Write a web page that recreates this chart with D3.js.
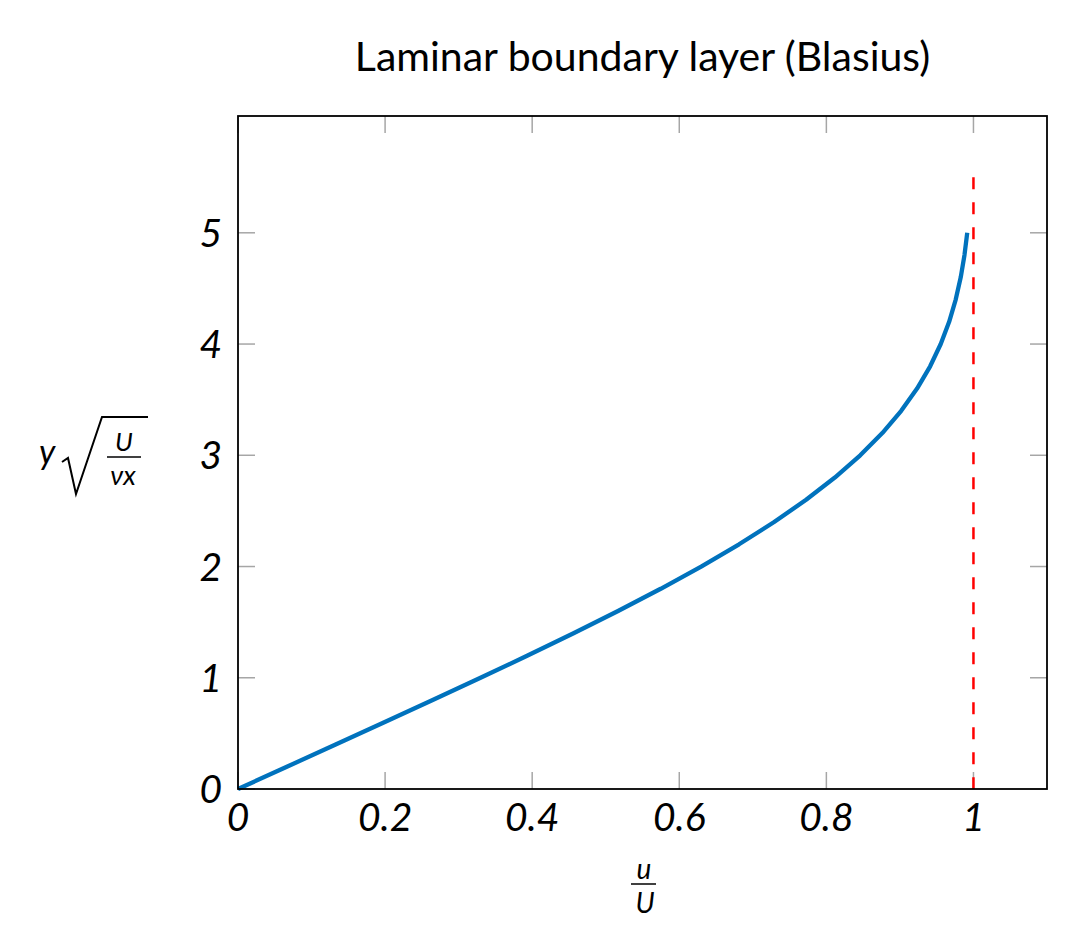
<!DOCTYPE html>
<meta charset="utf-8">
<head>
<style>
  body { margin: 0; background: #fff; }
  svg { display: block; }
  .tick-lbl { font-family: Lato, sans-serif; font-style: italic; font-size: 39px; fill: #000; }
  .title { font-family: Lato, sans-serif; font-size: 41px; fill: #000; }
  .math { font-family: Lato, sans-serif; font-style: italic; fill: #000; }
</style>
</head>
<body>
<svg id="chart" width="1072" height="947"></svg>
<script src="https://d3js.org/d3.v7.min.js"></script>
<script>
  // Blasius profile: eta = y*sqrt(U/(nu x)) and u/U
  var eta = [0, 0.2, 0.4, 0.6, 0.8, 1.0, 1.2, 1.4, 1.6, 1.8, 2.0, 2.2, 2.4, 2.6,
             2.8, 3.0, 3.2, 3.4, 3.6, 3.8, 4.0, 4.2, 4.4, 4.6, 4.8, 5.0];
  var uU = [0, 0.06641, 0.13277, 0.19894, 0.26471, 0.32979, 0.39378, 0.45627,
            0.51676, 0.57477, 0.62977, 0.68132, 0.72899, 0.77246, 0.81152,
            0.84605, 0.87609, 0.90177, 0.92333, 0.94112, 0.95552, 0.96696,
            0.97587, 0.98269, 0.98779, 0.99155];

  var xTicks = [0, 0.2, 0.4, 0.6, 0.8, 1];
  var xTickLabels = ["0", "0.2", "0.4", "0.6", "0.8", "1"];
  var yTicks = [0, 1, 2, 3, 4, 5];
  var freeStream = [{x: 1, y0: 0, y1: 5.5}];

  var L = 238, R = 1047, T = 116, B = 789;
  var x = d3.scaleLinear().domain([0, 1.1]).range([L, R]);
  var y = d3.scaleLinear().domain([0, 6.05]).range([B, T]);

  var svg = d3.select("#chart");

  // inner ticks, mirrored on all sides
  var tk = 17;
  var g = svg.append("g").attr("stroke", "#a6a6a6").attr("stroke-width", 1.5);
  xTicks.forEach(function (v) {
    g.append("line").attr("x1", x(v)).attr("x2", x(v)).attr("y1", B).attr("y2", B - tk);
    g.append("line").attr("x1", x(v)).attr("x2", x(v)).attr("y1", T).attr("y2", T + tk);
  });
  yTicks.forEach(function (v) {
    g.append("line").attr("x1", L).attr("x2", L + tk).attr("y1", y(v)).attr("y2", y(v));
    g.append("line").attr("x1", R).attr("x2", R - tk).attr("y1", y(v)).attr("y2", y(v));
  });

  // free stream u/U = 1
  svg.selectAll(".fs").data(freeStream).enter().append("line")
     .attr("class", "fs")
     .attr("x1", d => x(d.x)).attr("x2", d => x(d.x))
     .attr("y1", d => y(d.y1)).attr("y2", d => y(d.y0))
     .attr("stroke", "#ff0000").attr("stroke-width", 2.5)
     .attr("stroke-dasharray", "12,13");

  var line = d3.line().x(d => x(d[0])).y(d => y(d[1]));
  svg.append("path")
     .datum(uU.map((u, i) => [u, eta[i]]))
     .attr("d", line)
     .attr("fill", "none")
     .attr("stroke", "#0072bd")
     .attr("stroke-width", 4.3)
     .attr("stroke-linejoin", "round");

  // axes box
  svg.append("rect").attr("x", L).attr("y", T).attr("width", R - L).attr("height", B - T)
     .attr("fill", "none").attr("stroke", "#000").attr("stroke-width", 1.8);

  // tick labels
  svg.selectAll(".xl").data(xTicks).enter().append("text")
     .attr("class", "tick-lbl")
     .attr("x", d => x(d)).attr("y", 831)
     .attr("text-anchor", "middle")
     .text((d, i) => xTickLabels[i]);
  svg.selectAll(".yl").data(yTicks).enter().append("text")
     .attr("class", "tick-lbl")
     .attr("x", 222).attr("y", d => y(d) + 14)
     .attr("text-anchor", "end")
     .text(d => d);

  svg.append("text").attr("class", "title")
     .attr("x", (L + R) / 2).attr("y", 71).attr("text-anchor", "middle")
     .text("Laminar boundary layer (Blasius)");

  // x label u/U
  svg.append("text").attr("class", "math").attr("font-size", 28)
     .attr("x", 644).attr("y", 879).attr("text-anchor", "middle").text("u");
  svg.append("line").attr("x1", 631).attr("x2", 656).attr("y1", 884).attr("y2", 884)
     .attr("stroke", "#000").attr("stroke-width", 1.5);
  svg.append("text").attr("class", "math").attr("font-size", 28)
     .attr("x", 645).attr("y", 913).attr("text-anchor", "middle").text("U");

  // y label y*sqrt(U/(nu x))
  svg.append("text").attr("class", "math").attr("font-size", 34)
     .attr("x", 39).attr("y", 464).text("y");
  svg.append("path").attr("d", "M62,462 L68,458 L76,494 L102,417 L148,417")
     .attr("fill", "none").attr("stroke", "#000").attr("stroke-width", 2);
  svg.append("text").attr("class", "math").attr("font-size", 26)
     .attr("x", 124).attr("y", 451).attr("text-anchor", "middle").text("U");
  svg.append("line").attr("x1", 107).attr("x2", 141).attr("y1", 457).attr("y2", 457)
     .attr("stroke", "#000").attr("stroke-width", 1.5);
  svg.append("text").attr("class", "math").attr("font-size", 27)
     .attr("x", 123).attr("y", 485).attr("text-anchor", "middle").text("νx");
</script>
</body>
